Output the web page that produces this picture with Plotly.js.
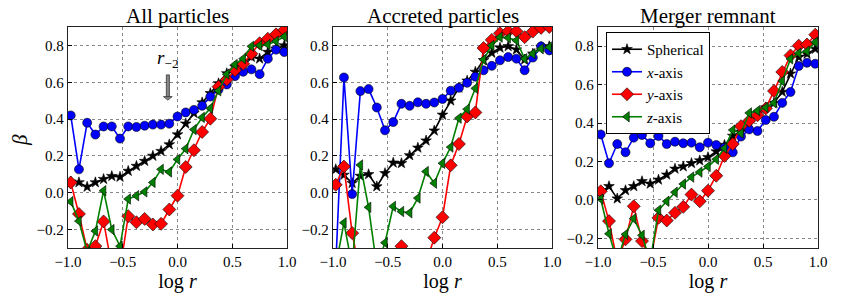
<!DOCTYPE html>
<html>
<head>
<meta charset="utf-8">
<script src="https://cdn.plot.ly/plotly-3.0.1.min.js"></script>
<style>
html,body{margin:0;padding:0;background:#fff}
#plot{width:843px;height:293px}
</style>
</head>
<body>
<div id="plot"></div>
<script>
// log r sample positions (shared by all panels)
const logr = [-0.975,-0.9,-0.825,-0.75,-0.675,-0.6,-0.525,-0.45,-0.375,-0.3,-0.225,-0.15,-0.075,0.0,0.075,0.15,0.225,0.3,0.375,0.45,0.525,0.6,0.675,0.75,0.825,0.9,0.975];

const panelTitles = ["All particles", "Accreted particles", "Merger remnant"];
const seriesNames = ["Spherical", "<i>x</i>-axis", "<i>y</i>-axis", "<i>z</i>-axis"];
const xTicks = [-1.0, -0.5, 0.0, 0.5, 1.0];
const yTicks = [-0.2, 0.0, 0.2, 0.4, 0.6, 0.8];

// Panel 1: All particles
const all_sph = [0.06,0.056,0.032,0.056,0.074,0.09,0.086,0.118,0.145,0.172,0.2,0.226,0.262,0.316,0.375,0.432,0.49,0.54,0.594,0.648,0.683,0.705,0.737,0.728,0.764,0.782,0.8];
const all_x   = [0.42,0.127,0.38,0.316,0.36,0.36,0.294,0.36,0.357,0.364,0.37,0.37,0.375,0.414,0.436,0.45,0.472,0.522,0.56,0.588,0.633,0.657,0.67,0.644,0.728,0.777,0.764];
const all_y   = [0.056,-0.115,-0.31,-0.29,-0.156,-0.4,-0.42,-0.127,-0.16,-0.142,-0.172,-0.169,-0.091,-0.016,0.14,0.231,0.33,0.402,0.576,0.615,0.665,0.7,0.755,0.812,0.836,0.86,0.884];
const all_z   = [-0.048,-0.154,-0.32,-0.208,0.011,-0.2,-0.29,-0.034,-0.016,0.005,0.056,0.127,0.113,0.181,0.239,0.343,0.409,0.459,0.554,0.644,0.696,0.728,0.795,0.8,0.805,0.823,0.848];

// Panel 2: Accreted particles
const acc_sph = [0.127,0.097,0.052,0.091,0.1,0.034,0.106,0.163,0.16,0.203,0.244,0.283,0.337,0.423,0.5,0.57,0.608,0.656,0.719,0.759,0.787,0.795,0.777,0.723,0.755,0.791,0.795];
const acc_x   = [-0.4,0.626,-0.007,0.552,0.563,0.463,0.339,0.384,0.483,0.472,0.491,0.483,0.49,0.509,0.554,0.57,0.597,0.63,0.665,0.689,0.719,0.737,0.728,0.665,0.734,0.795,0.773];
const acc_y   = [0.043,0.142,-0.219,-0.45,-0.45,-0.5,-0.45,-0.4,-0.29,-0.35,-0.4,-0.38,-0.244,-0.133,0.149,0.265,0.414,0.436,0.786,0.83,0.866,0.877,0.877,0.845,0.875,0.895,0.9];
const acc_z   = [-0.4,-0.163,-0.4,0.151,-0.079,-0.4,-0.271,-0.074,-0.102,-0.109,-0.029,0.115,0.052,0.16,0.248,0.405,0.454,0.567,0.723,0.8,0.845,0.841,0.827,0.728,0.755,0.782,0.791];

// Panel 3: Merger remnant
const mer_sph = [0.04,0.071,0.007,0.05,0.071,0.097,0.084,0.105,0.131,0.162,0.174,0.191,0.205,0.222,0.252,0.286,0.333,0.355,0.398,0.45,0.481,0.505,0.562,0.657,0.743,0.76,0.786];
const mer_x   = [0.341,0.191,0.291,0.248,0.324,0.338,0.295,0.333,0.291,0.303,0.295,0.298,0.274,0.298,0.286,0.272,0.248,0.33,0.367,0.359,0.416,0.433,0.505,0.562,0.697,0.714,0.709];
const mer_y   = [0.045,-0.11,-0.32,-0.205,-0.033,-0.214,-0.32,-0.093,-0.107,-0.067,-0.036,0.028,-0.007,0.048,0.126,0.229,0.291,0.384,0.412,0.441,0.476,0.567,0.666,0.752,0.803,0.809,0.86];
const mer_z   = [0.005,-0.176,-0.32,-0.179,-0.097,-0.184,-0.32,-0.053,-0.007,0.04,0.083,0.119,0.145,0.174,0.212,0.269,0.364,0.347,0.453,0.464,0.481,0.505,0.619,0.734,0.764,0.774,0.821];

// r_-2 marker position (log r) and arrow span in beta
const r2_logr = -0.088;
const r2_arrow = [0.64, 0.522, 0.503]; // tail, head base, tip

const panels = [
  [all_sph, all_x, all_y, all_z],
  [acc_sph, acc_x, acc_y, acc_z],
  [mer_sph, mer_x, mer_y, mer_z]
];
const yRanges = [[-0.3, 0.9], [-0.3, 0.9], [-0.25, 0.9]];

const styles = [
  {color: '#000000', symbol: 'star', size: 8},
  {color: '#0000ff', symbol: 'circle', size: 9},
  {color: '#ff0000', symbol: 'diamond', size: 10},
  {color: '#008000', symbol: 'triangle-left', size: 9}
];

const W = 843, H = 293;
const xPix = [[68, 287], [333, 552], [598, 818]];
const yDom = [1 - 248 / H, 1 - 27 / H];
const FONT = 'Liberation Serif';

const traces = [];
panels.forEach((series, p) => {
  series.forEach((vals, s) => {
    traces.push({
      x: logr, y: vals, type: 'scatter', mode: 'lines+markers',
      name: seriesNames[s], legendgroup: 's' + s, showlegend: p === 2,
      xaxis: p === 0 ? 'x' : 'x' + (p + 1), yaxis: p === 0 ? 'y' : 'y' + (p + 1),
      line: {color: styles[s].color, width: 1.6},
      marker: {symbol: styles[s].symbol, size: styles[s].size, color: styles[s].color,
               line: {color: '#000', width: 0.6}}
    });
  });
});

const layout = {
  width: W, height: H, margin: {l: 0, r: 0, t: 0, b: 0},
  paper_bgcolor: '#fff', plot_bgcolor: '#fff',
  font: {family: FONT, size: 15, color: '#000'},
  showlegend: true,
  legend: {x: 606 / W, y: 1 - 32 / H, xanchor: 'left', yanchor: 'top',
           bgcolor: '#fff', bordercolor: '#000', borderwidth: 1,
           font: {family: FONT, size: 15}, itemwidth: 30, tracegroupgap: 0},
  annotations: [],
  shapes: [],
  hovermode: false
};

for (let p = 0; p < 3; p++) {
  const xs = p === 0 ? '' : String(p + 1);
  layout['xaxis' + xs] = {
    domain: [xPix[p][0] / W, xPix[p][1] / W], anchor: 'y' + xs, range: [-1, 1],
    tickvals: xTicks, tickformat: '.1f', ticks: 'inside', ticklen: 4, tickcolor: '#000',
    showline: true, mirror: true, linecolor: '#222', linewidth: 1.3,
    showgrid: true, gridcolor: '#888', griddash: 'dot', gridwidth: 1, zeroline: false,
    tickfont: {family: FONT, size: 15},
    title: {text: 'log <i>r</i>', font: {family: FONT, size: 20}, standoff: 3}
  };
  layout['yaxis' + xs] = {
    domain: yDom, anchor: 'x' + xs, range: yRanges[p],
    tickvals: yTicks, tickformat: '.1f', ticks: 'inside', ticklen: 4, tickcolor: '#000',
    showline: true, mirror: true, linecolor: '#222', linewidth: 1.3,
    showgrid: true, gridcolor: '#888', griddash: 'dot', gridwidth: 1, zeroline: false,
    tickfont: {family: FONT, size: 15}
  };
  layout.annotations.push({
    text: panelTitles[p], xref: 'x' + xs + ' domain', yref: 'paper',
    x: 0.5, y: 1 - 2 / H, xanchor: 'center', yanchor: 'top', showarrow: false,
    font: {family: FONT, size: 21}
  });
}

// y axis title beta
layout.annotations.push({
  text: '<i>β</i>', xref: 'paper', yref: 'paper', x: 20 / W, y: 1 - 140 / H,
  xanchor: 'center', yanchor: 'middle', textangle: -90, showarrow: false,
  font: {family: FONT, size: 21}
});
// r_-2 label
layout.annotations.push({
  text: '<i>r</i><sub>−2</sub>', xref: 'x', yref: 'y', x: r2_logr, y: 0.65,
  xanchor: 'center', yanchor: 'bottom', showarrow: false,
  font: {family: FONT, size: 19}
});
// r_-2 arrow (body + head)
layout.shapes.push({
  type: 'rect', xref: 'x', yref: 'y', x0: r2_logr - 0.014, x1: r2_logr + 0.014,
  y0: r2_arrow[1], y1: r2_arrow[0], fillcolor: '#888', line: {color: '#333', width: 0.8}
});
layout.shapes.push({
  type: 'path', xref: 'x', yref: 'y',
  path: 'M ' + (r2_logr - 0.04) + ' ' + r2_arrow[1] + ' L ' + (r2_logr + 0.04) + ' ' + r2_arrow[1] +
        ' L ' + r2_logr + ' ' + r2_arrow[2] + ' Z',
  fillcolor: '#888', line: {color: '#333', width: 0.8}
});

Plotly.newPlot('plot', traces, layout, {staticPlot: true, displayModeBar: false});
</script>
</body>
</html>
